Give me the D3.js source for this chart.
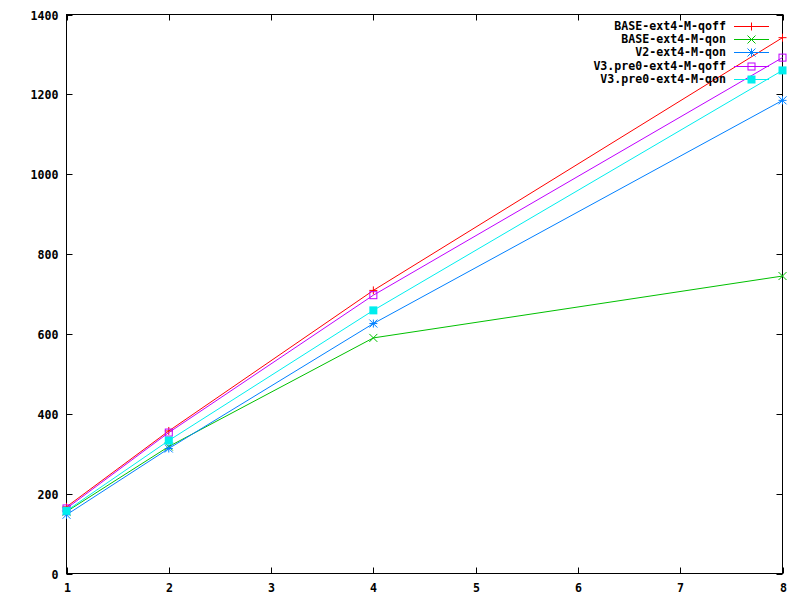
<!DOCTYPE html>
<html><head><meta charset="utf-8">
<script src="https://cdn.jsdelivr.net/npm/d3@7"></script>
<style>body{margin:0;background:#fff}svg{display:block}text{font-family:"DejaVu Sans Mono",monospace;font-weight:bold;font-size:11.6px;fill:#000}</style>
</head><body><svg id="c" width="800" height="600"></svg>
<script>
const xValues = [1, 2, 4, 8];
const seriesNames = ["BASE-ext4-M-qoff","BASE-ext4-M-qon","V2-ext4-M-qon","V3.pre0-ext4-M-qoff","V3.pre0-ext4-M-qon"];
const baseQoff = [167, 357, 709, 1342];
const baseQon = [155, 318, 590, 745];
const v2Qon = [147, 313, 626, 1185];
const v3Qoff = [163, 353, 697, 1292];
const v3Qon = [157, 333, 659, 1260];
const colors = ["#ff0000","#00c000","#0080ff","#c000ff","#00eeee"];
const markers = ["plus","cross","star","box","fbox"];
const xTicks = [1,2,3,4,5,6,7,8];
const yTicks = [0,200,400,600,800,1000,1200,1400];
const allSeries = [baseQoff, baseQon, v2Qon, v3Qoff, v3Qon];

const svg = d3.select("#c");
const L=66.5, R=782.5, T=14.5, B=573.5;
const x = d3.scaleLinear().domain([1,8]).range([L,R]);
const y = d3.scaleLinear().domain([0,1400]).range([B,T]);

const g = svg.append("g");
g.append("rect").attr("x",L).attr("y",T).attr("width",R-L).attr("height",B-T)
 .attr("fill","none").attr("stroke","#000").attr("shape-rendering","crispEdges");
const tl=6;
xTicks.forEach(v=>{
  const px=Math.round(x(v))+0.5;
  g.append("line").attr("x1",px).attr("x2",px).attr("y1",B).attr("y2",B-tl).attr("stroke","#000");
  g.append("line").attr("x1",px).attr("x2",px).attr("y1",T).attr("y2",T+tl).attr("stroke","#000");
  g.append("text").attr("x",px).attr("y",B+18).attr("text-anchor","middle").text(v);
});
yTicks.forEach(v=>{
  const py=Math.round(y(v))+0.5;
  g.append("line").attr("x1",L).attr("x2",L+tl).attr("y1",py).attr("y2",py).attr("stroke","#000");
  g.append("line").attr("x1",R).attr("x2",R-tl).attr("y1",py).attr("y2",py).attr("stroke","#000");
  g.append("text").attr("x",L-8).attr("y",py).attr("dy","0.35em").attr("text-anchor","end").text(v);
});

function marker(sel, type, cx, cy, color){
  const s=4;
  const add=(x1,y1,x2,y2)=>sel.append("line").attr("x1",cx+x1).attr("y1",cy+y1).attr("x2",cx+x2).attr("y2",cy+y2).attr("stroke",color).attr("stroke-width",1);
  if(type==="plus"||type==="star"){add(-s,0,s,0);add(0,-s,0,s);}
  if(type==="cross"||type==="star"){add(-s,-s,s,s);add(-s,s,s,-s);}
  if(type==="box") sel.append("rect").attr("x",cx-s+0.5).attr("y",cy-s+0.5).attr("width",2*s-1).attr("height",2*s-1).attr("fill","none").attr("stroke",color);
  if(type==="fbox") sel.append("rect").attr("x",cx-s).attr("y",cy-s).attr("width",2*s).attr("height",2*s).attr("fill",color);
}

const line = d3.line().x((d,i)=>x(xValues[i])).y(d=>y(d));
allSeries.forEach((s,k)=>{
  svg.append("path").datum(s).attr("d",line).attr("fill","none").attr("stroke",colors[k]).attr("stroke-width",1);
  s.forEach((v,i)=>marker(svg, markers[k], x(xValues[i]), y(v), colors[k]));
});

seriesNames.forEach((n,k)=>{
  const ly=25.5+k*13.35;
  svg.append("text").attr("x",726).attr("y",ly).attr("dy","0.35em").attr("text-anchor","end").text(n);
  svg.append("line").attr("x1",734).attr("x2",769).attr("y1",Math.round(ly)+0.5).attr("y2",Math.round(ly)+0.5).attr("stroke",colors[k]);
  marker(svg, markers[k], 751.5, Math.round(ly)+0.5, colors[k]);
});
</script></body></html>
